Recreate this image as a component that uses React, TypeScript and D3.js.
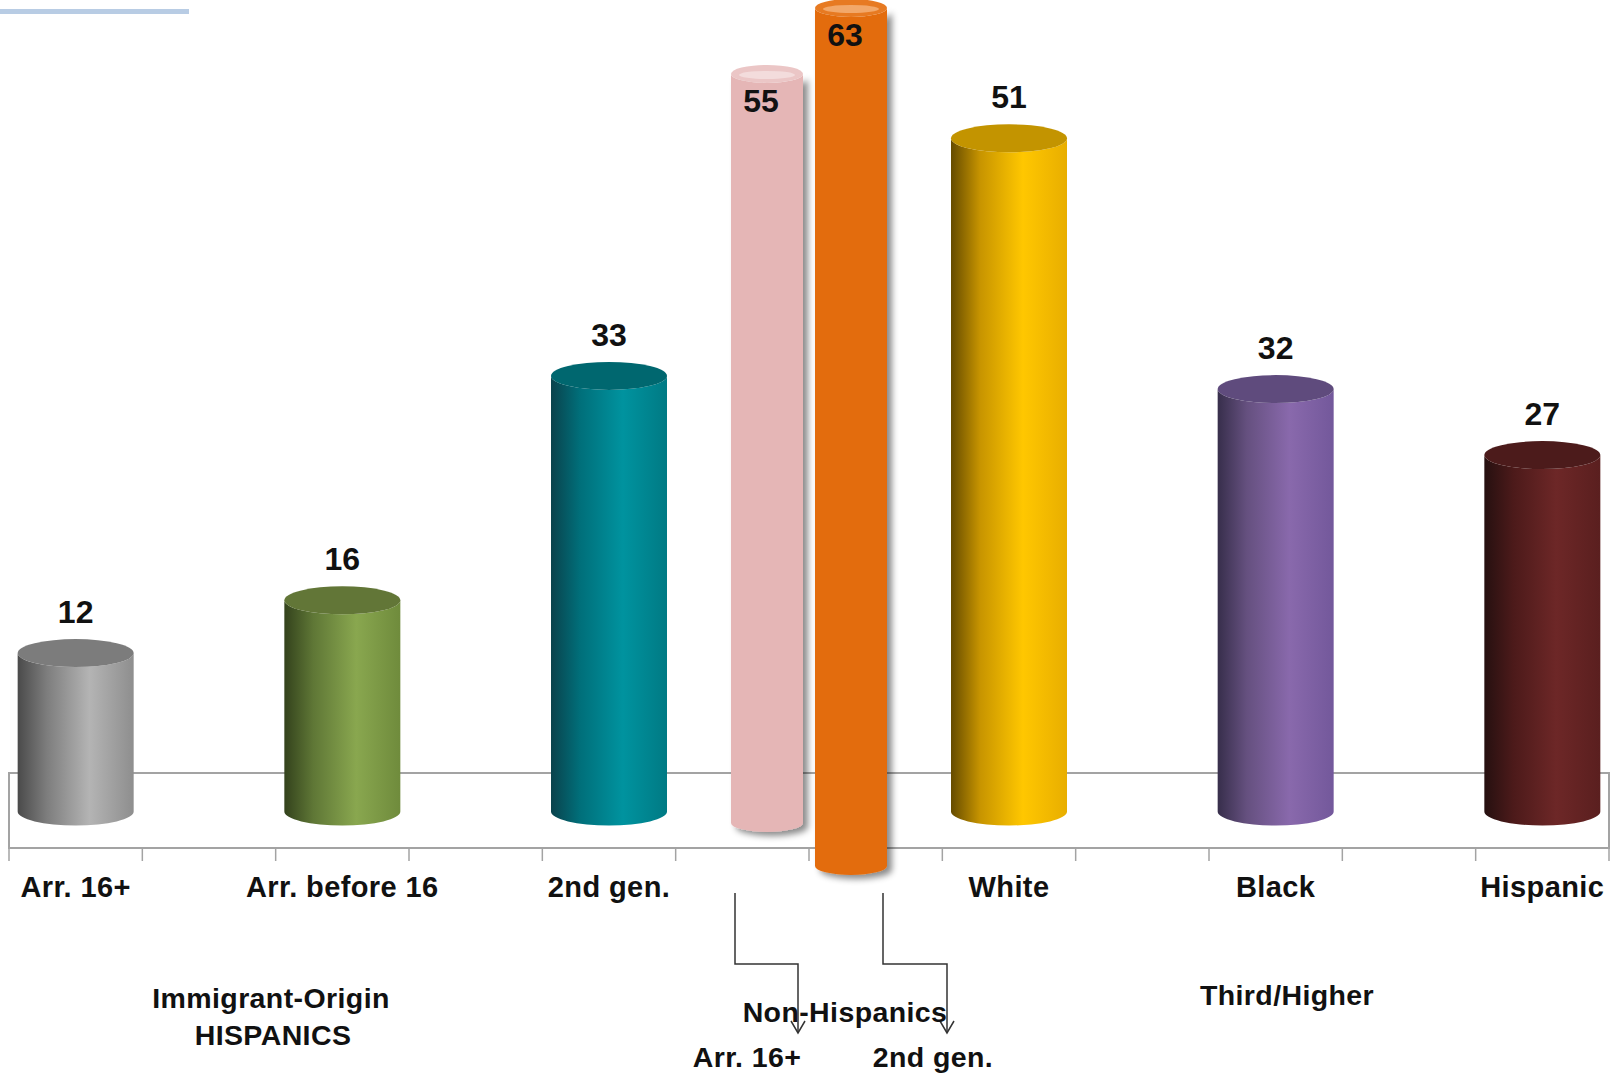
import React from "react";
import * as d3 from "d3";

// Categories along the floor (blank slots leave gaps between groups)
const categories = ["Arr. 16+", "", "Arr. before 16", "", "2nd gen.", "", "", "White", "", "Black", "", "Hispanic"];
const values: (number | null)[] = [12, null, 16, null, 33, null, null, 51, null, 32, null, 27];

// Non-Hispanic comparison cylinders drawn in front of the floor
const overlayNames = ["Arr. 16+", "2nd gen."];
const overlayValues = [55, 63];

// Group captions below the axis
const groupCaptions = [["Immigrant-Origin", "HISPANICS"], ["Non-Hispanics"], ["Third/Higher"]];

// Cylinder shading: [dark edge, shoulder, highlight, right edge], top cap
const shades: Record<string, { body: string[]; cap: string }> = {
  "Arr. 16+": { body: ["#4a4a4a", "#7d7d7d", "#b4b4b4", "#8e8e8e"], cap: "#7c7c7c" },
  "Arr. before 16": { body: ["#33421c", "#5f7736", "#89a74f", "#6f8b3c"], cap: "#627637" },
  "2nd gen.": { body: ["#0a424c", "#006f7a", "#00939f", "#007a84"], cap: "#00676f" },
  White: { body: ["#654b00", "#c79400", "#ffc700", "#e8ae00"], cap: "#c39400" },
  Black: { body: ["#372e4b", "#65507f", "#8969ac", "#73589b"], cap: "#5f4b7d" },
  Hispanic: { body: ["#261010", "#4c1a1a", "#6d2727", "#5a1f1f"], cap: "#4c1b1b" },
};
const overlayShades = [
  { body: "#e5b6b6", cap: "#ebc6c6", glow: "#f3dcdc" },
  { body: "#e36c0c", cap: "#e77a22", glow: "#f2a86a" },
];

const W = 1618;
const H = 1075;
const FONT = "'Liberation Sans', Arial, sans-serif";

export default function App() {
  const floor = { left: 9, right: 1609, back: 773, front: 848 };
  const x = d3
    .scaleBand<number>()
    .domain(d3.range(categories.length))
    .range([floor.left, floor.right])
    .paddingInner(0)
    .paddingOuter(0);
  const baseY = (floor.back + floor.front) / 2 + 1;
  const y = d3.scaleLinear().domain([0, 60]).range([baseY, baseY - 60 * 13.2]);
  const rx = 58;
  const ry = 14;

  // overlay cylinders share one height scale
  const oh = d3.scaleLinear().domain([0, 63]).range([0, 858]);
  const oBase = [823, 866];
  const oRx = 36;
  const oRy = 9;
  const split = floor.left + x.bandwidth() * 6;
  const oCx = [split - 42, split + 42];

  const ticks = d3.range(categories.length + 1).map((i) => floor.left + i * x.bandwidth());

  const cyl = (cx: number, top: number, base: number, a: number, b: number) =>
    `M${cx - a},${top} L${cx - a},${base} A${a},${b} 0 0 0 ${cx + a},${base} L${cx + a},${top} A${a},${b} 0 0 1 ${cx - a},${top} Z`;

  const textStyle: React.CSSProperties = { fontFamily: FONT, fontWeight: 700, fill: "#111" };
  const labelStyle: React.CSSProperties = { ...textStyle, letterSpacing: "0.4px" };

  // elbow connector ending in an open arrowhead
  const connector = (x0: number, x1: number) => {
    const yTop = 893;
    const yMid = 964;
    const yEnd = 1033;
    return {
      line: `M${x0},${yTop} V${yMid} H${x1} V${yEnd}`,
      head: `M${x1 - 7},${yEnd - 12} L${x1},${yEnd} L${x1 + 7},${yEnd - 12}`,
    };
  };
  const conns = [connector(oCx[0] - 32, 798), connector(oCx[1] + 32, 947)];

  return (
    <div style={{ position: "absolute", left: 0, top: 0 }}>
      <svg width={W} height={H} viewBox={`0 0 ${W} ${H}`} style={{ display: "block", background: "#fff" }}>
        <defs>
          {categories.map((c, i) =>
            shades[c] ? (
              <linearGradient key={c} id={`g${i}`} x1="0" x2="1" y1="0" y2="0">
                <stop offset="0" stopColor={shades[c].body[0]} />
                <stop offset="0.25" stopColor={shades[c].body[1]} />
                <stop offset="0.62" stopColor={shades[c].body[2]} />
                <stop offset="1" stopColor={shades[c].body[3]} />
              </linearGradient>
            ) : null
          )}
          <filter id="drop" x="-30%" y="-5%" width="160%" height="110%">
            <feDropShadow dx="5" dy="4" stdDeviation="3" floodColor="#000" floodOpacity="0.45" />
          </filter>
        </defs>

        {/* header rule */}
        <rect x={0} y={9} width={189} height={5} fill="#b8cce4" />

        {/* floor */}
        <rect
          x={floor.left}
          y={floor.back}
          width={floor.right - floor.left}
          height={floor.front - floor.back}
          fill="#fff"
          stroke="#a3a3a3"
          strokeWidth={2}
        />
        {ticks.map((t, i) => (
          <line key={i} x1={t} x2={t} y1={floor.front} y2={floor.front + 13} stroke="#a3a3a3" strokeWidth={1.5} />
        ))}

        {/* cylinders */}
        {categories.map((c, i) => {
          const v = values[i];
          if (v == null) return null;
          const cx = (x(i) as number) + x.bandwidth() / 2;
          const top = y(v);
          return (
            <g key={c}>
              <path d={cyl(cx, top, baseY, rx, ry)} fill={`url(#g${i})`} />
              <ellipse cx={cx} cy={top} rx={rx} ry={ry} fill={shades[c].cap} />
              <text x={cx} y={top - ry - 16} textAnchor="middle" fontSize={32} style={textStyle}>
                {v}
              </text>
            </g>
          );
        })}

        {/* Non-Hispanic comparison cylinders */}
        {overlayValues.map((v, i) => {
          const base = oBase[i];
          const top = base - oh(v);
          const cx = oCx[i];
          const s = overlayShades[i];
          return (
            <g key={overlayNames[i]}>
              <path d={cyl(cx, top, base, oRx, oRy)} fill={s.body} filter="url(#drop)" />
              <ellipse cx={cx} cy={top} rx={oRx} ry={oRy} fill={s.cap} />
              <ellipse cx={cx} cy={top + 1} rx={oRx - 8} ry={oRy - 5} fill={s.glow} />
              <text x={cx - 6} y={top + 38} textAnchor="middle" fontSize={32} style={textStyle}>
                {v}
              </text>
            </g>
          );
        })}

        {/* category labels */}
        {categories.map((c, i) =>
          c ? (
            <text key={c} x={(x(i) as number) + x.bandwidth() / 2} y={897} textAnchor="middle" fontSize={29} style={labelStyle}>
              {c}
            </text>
          ) : null
        )}

        {/* connectors from the comparison cylinders to their labels */}
        {conns.map((cn, i) => (
          <g key={i} fill="none" stroke="#333" strokeWidth={1.5}>
            <path d={cn.line} />
            <path d={cn.head} />
          </g>
        ))}

        {/* group captions */}
        <text x={271} y={1008} textAnchor="middle" fontSize={28.5} style={labelStyle}>
          {groupCaptions[0][0]}
        </text>
        <text x={273} y={1045} textAnchor="middle" fontSize={28.5} style={labelStyle}>
          {groupCaptions[0][1]}
        </text>
        <text x={845} y={1022} textAnchor="middle" fontSize={28.5} style={labelStyle}>
          {groupCaptions[1][0]}
        </text>
        <text x={1287} y={1005} textAnchor="middle" fontSize={28.5} style={labelStyle}>
          {groupCaptions[2][0]}
        </text>
        <text x={747} y={1067} textAnchor="middle" fontSize={28.5} style={labelStyle}>
          {overlayNames[0]}
        </text>
        <text x={933} y={1067} textAnchor="middle" fontSize={28.5} style={labelStyle}>
          {overlayNames[1]}
        </text>
      </svg>
    </div>
  );
}
